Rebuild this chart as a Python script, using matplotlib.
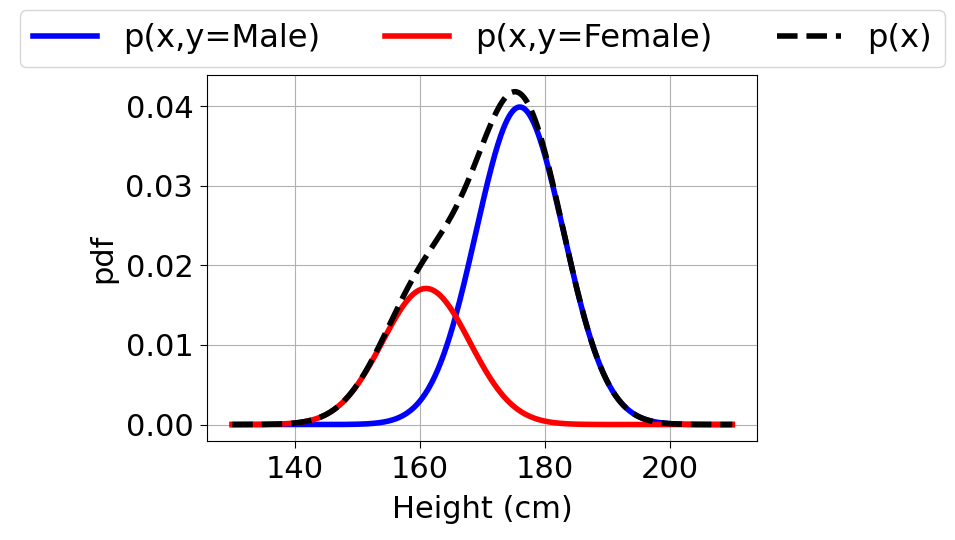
import numpy as np
import matplotlib.pyplot as plt

# mixture parameters
x_range = [130, 210]
male_mean, male_std, male_weight = 176.0, 7.0, 0.7
female_mean, female_std, female_weight = 161.0, 7.0, 0.3
labels = ['p(x,y=Male)', 'p(x,y=Female)', 'p(x)']


def gauss(x, mu, sd):
    return np.exp(-0.5 * ((x - mu) / sd) ** 2) / (np.sqrt(2 * np.pi) * sd)


x = np.linspace(x_range[0], x_range[1], 500)
p_male = male_weight * gauss(x, male_mean, male_std)
p_female = female_weight * gauss(x, female_mean, female_std)
p_x = p_male + p_female

fig = plt.figure(figsize=(9.55, 5.4), dpi=100)
ax = fig.add_axes([0.217, 0.183, 0.576, 0.678])
ax.plot(x, p_male, color='blue', lw=4, label=labels[0])
ax.plot(x, p_female, color='red', lw=4, label=labels[1])
ax.plot(x, p_x, 'k--', lw=4, label=labels[2])
ax.grid(True)
ax.set_xlabel('Height (cm)', fontsize=22, labelpad=8)
ax.set_ylabel('pdf', fontsize=22, labelpad=6)
ax.tick_params(labelsize=22, length=5, pad=5)
fig.legend(loc='upper left', bbox_to_anchor=(0.021, 0.981),
           ncol=3, fontsize=23.2, borderaxespad=0)
fig.savefig('out.png')
